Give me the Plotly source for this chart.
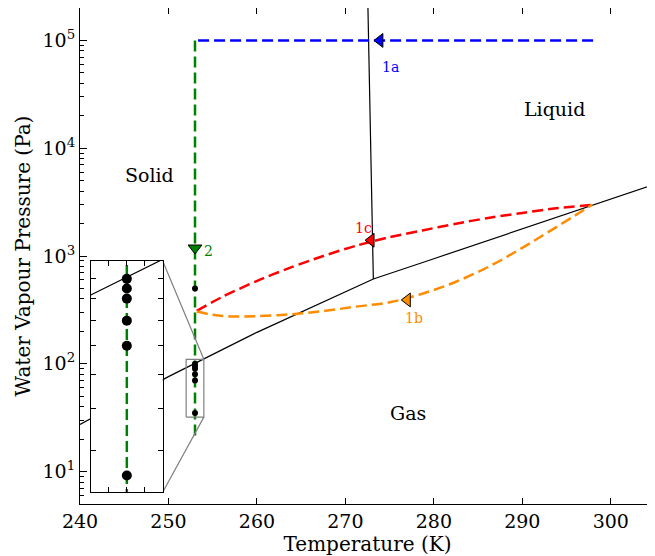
import numpy as np
import plotly.graph_objects as go

# ---------------- data ----------------
vap_T = [240, 250, 260, 273.16, 280, 290, 298, 305]
vap_P = [27.3, 76.0, 195.8, 611.6, 944, 1786, 2965, 4640]

melt_T = [273.16, 272.55]
melt_P = [611.6, 2.0e5]

path1a_T = [298, 253]
path1a_P = [1e5, 1e5]

path2_T = [253, 253]
path2_P = [1e5, 20]

red_T = [253.2, 256.2, 259.9, 263.7, 267.5, 271.2, 275.0, 278.7, 282.5, 286.3, 290.0, 293.8, 297.9]
red_P = [310, 422, 582, 776, 1000, 1245, 1496, 1726, 1995, 2265, 2512, 2767, 2985]

orange_T = [253.2, 255.0, 257.0, 259.9, 263.7, 267.5, 271.2, 275.0, 278.7, 282.5, 286.3, 290.0, 293.8, 297.9]
orange_P = [305, 285, 275, 276, 287, 308, 339, 372, 447, 577, 803, 1191, 1845, 2985]

dots_T = [253, 253, 253, 253, 253, 253, 253]
dots_P = [500, 100, 95, 90, 80, 70, 35]

arrow_1a = (273.9, 1e5)
arrow_1b = (277.0, 391)
arrow_1c = (272.9, 1400)
arrow_2 = (253, 1186)

labels = [
    ("Solid", 247.8, 5600, "black", 19),
    ("Liquid", 293.6, 22900, "black", 19),
    ("Gas", 277.1, 35, "black", 19),
    ("1a", 275.1, 57000, "#0000ff", 14),
    ("1b", 277.7, 265, "#ff8c00", 14),
    ("1c", 272.0, 1830, "#ff0000", 14),
    ("2", 254.5, 1110, "#008000", 14),
]

x_range = [240, 305]
y_range = [np.log10(5), np.log10(2e5)]
y_ticks = [10, 100, 1000, 10000, 100000]
y_ticktext = ["10<sup>1</sup>", "10<sup>2</sup>", "10<sup>3</sup>", "10<sup>4</sup>", "10<sup>5</sup>"]
x_ticks = [240, 250, 260, 270, 280, 290, 300]

inset_x_range = [252, 254]
inset_y_lo, inset_y_hi = 32, 110
inset_dom_x = [0.0191, 0.1438]
inset_dom_y = [0.0236, 0.4899]

FONT = "DejaVu Serif"
DASH = "11px,5px"

fig = go.Figure()

fig.add_trace(go.Scatter(x=vap_T, y=vap_P, mode="lines", line=dict(color="black", width=1.2),
                         showlegend=False))
fig.add_trace(go.Scatter(x=melt_T, y=melt_P, mode="lines", line=dict(color="black", width=1.2),
                         showlegend=False))
fig.add_trace(go.Scatter(x=path1a_T, y=path1a_P, mode="lines",
                         line=dict(color="#0000ff", width=2.5, dash=DASH), showlegend=False))
fig.add_trace(go.Scatter(x=path2_T, y=path2_P, mode="lines",
                         line=dict(color="#008000", width=2.5, dash=DASH), showlegend=False))
fig.add_trace(go.Scatter(x=red_T, y=red_P, mode="lines",
                         line=dict(color="#ff0000", width=2.5, dash=DASH, shape="spline", smoothing=0.8),
                         showlegend=False))
fig.add_trace(go.Scatter(x=orange_T, y=orange_P, mode="lines",
                         line=dict(color="#ff8c00", width=2.5, dash=DASH, shape="spline", smoothing=1.0),
                         showlegend=False))
fig.add_trace(go.Scatter(x=dots_T, y=dots_P, mode="markers",
                         marker=dict(color="black", size=6), showlegend=False))

for (pt, col, sym) in [(arrow_1a, "#0000ff", "triangle-left"),
                       (arrow_1b, "#ff8c00", "triangle-left"),
                       (arrow_1c, "#ff0000", "triangle-left"),
                       (arrow_2, "#008000", "triangle-down")]:
    fig.add_trace(go.Scatter(x=[pt[0]], y=[pt[1]], mode="markers",
                             marker=dict(color=col, size=12, symbol=sym,
                                         line=dict(color="black", width=1)),
                             showlegend=False))

def dom_to_data(dx, dy):
    t = x_range[0] + dx * (x_range[1] - x_range[0])
    p = 10 ** (y_range[0] + dy * (y_range[1] - y_range[0]))
    return t, p

bx0, bx1 = inset_x_range
fig.add_trace(go.Scatter(x=[bx0, bx1, bx1, bx0, bx0],
                         y=[inset_y_lo, inset_y_lo, inset_y_hi, inset_y_hi, inset_y_lo],
                         mode="lines", line=dict(color="gray", width=1.2), showlegend=False))
tr = dom_to_data(inset_dom_x[1], inset_dom_y[1])
br = dom_to_data(inset_dom_x[1], inset_dom_y[0])
fig.add_trace(go.Scatter(x=[bx1, tr[0]], y=[inset_y_hi, tr[1]], mode="lines",
                         line=dict(color="gray", width=1.2), showlegend=False))
fig.add_trace(go.Scatter(x=[bx1, br[0]], y=[inset_y_lo, br[1]], mode="lines",
                         line=dict(color="gray", width=1.2), showlegend=False))

fig.add_trace(go.Scatter(x=vap_T, y=vap_P, mode="lines", line=dict(color="black", width=1.2),
                         xaxis="x2", yaxis="y2", showlegend=False))
fig.add_trace(go.Scatter(x=path2_T, y=path2_P, mode="lines",
                         line=dict(color="#008000", width=2.5, dash=DASH),
                         xaxis="x2", yaxis="y2", showlegend=False))
fig.add_trace(go.Scatter(x=dots_T, y=dots_P, mode="markers", marker=dict(color="black", size=10),
                         xaxis="x2", yaxis="y2", showlegend=False))

annotations = []
for (txt, t, p, col, sz) in labels:
    annotations.append(dict(text=txt, x=t, y=np.log10(p), xref="x", yref="y", showarrow=False,
                            font=dict(family=FONT, size=sz, color=col)))

axis_common = dict(showgrid=False, zeroline=False, showline=True, linecolor="black", linewidth=1.2,
                   mirror="ticks", ticks="inside", tickcolor="black", automargin=False)

# the page body adds an 8px offset; the figure is sized to compensate
fig.update_layout(
    width=647, height=548,
    margin=dict(l=72, r=0, t=0, b=52),
    plot_bgcolor="white", paper_bgcolor="white",
    font=dict(family=FONT, size=19, color="black"),
    xaxis=dict(range=x_range, tickvals=x_ticks, ticklen=6, domain=[0, 1],
               title=dict(text="Temperature (K)", font=dict(size=20), standoff=0),
               **axis_common),
    yaxis=dict(type="log", range=y_range, tickvals=y_ticks, ticktext=y_ticktext, ticklen=7,
               domain=[0, 1],
               minor=dict(ticks="inside", ticklen=4, tickcolor="black", dtick="D1", showgrid=False),
               title=dict(text="Water Vapour Pressure (Pa)", font=dict(size=20), standoff=6),
               **axis_common),
    xaxis2=dict(domain=inset_dom_x, anchor="y2", range=inset_x_range,
                tickvals=[252.5, 253, 253.5], showticklabels=False, ticklen=5,
                **axis_common),
    yaxis2=dict(domain=inset_dom_y, anchor="x2", type="log",
                range=[np.log10(inset_y_lo), np.log10(inset_y_hi)],
                tickvals=[40, 50, 60, 70, 80, 90, 100], showticklabels=False, ticklen=5,
                **axis_common),
    annotations=annotations,
)

fig.write_html("out.html")
